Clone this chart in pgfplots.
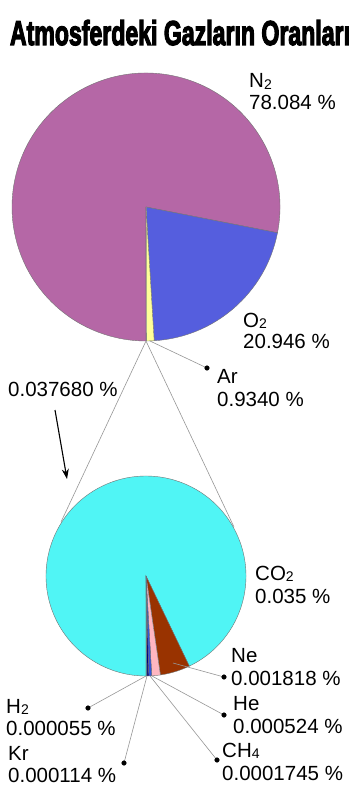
\documentclass[border=0pt]{standalone}
\usepackage{pgfplots}
\pgfplotsset{compat=1.18}
\usepackage{graphicx}
\usepackage{fontspec}
\setmainfont{Liberation Sans}
\newfontfamily\titlefont{Liberation Sans Bold}[FakeBold=4]
\usetikzlibrary{arrows.meta}

\definecolor{cN}{RGB}{181,103,166}
\definecolor{cO}{RGB}{85,94,222}
\definecolor{cAr}{RGB}{255,255,153}
\definecolor{cOther}{RGB}{200,200,200}
\definecolor{cCO}{RGB}{80,245,245}
\definecolor{cNe}{RGB}{153,51,0}
\definecolor{cHe}{RGB}{255,182,193}
\definecolor{cCH}{RGB}{51,85,220}
\definecolor{cKr}{RGB}{0,0,128}
\definecolor{cH}{RGB}{40,150,170}
\definecolor{leader}{RGB}{150,150,150}

% ---- data (percent of atmosphere) ----
\def\vN{78.084}\def\vO{20.946}\def\vAr{0.9340}\def\vOther{0.037680}
\def\vCO{0.035}\def\vNe{0.001818}\def\vHe{0.000524}\def\vCH{0.0001745}\def\vKr{0.000114}\def\vH{0.000055}

% top pie angles
\edef\Ta{\fpeval{\vN+\vO+\vAr+\vOther}}
\edef\aOtherS{\fpeval{round(-90+\vOther/\Ta*360,3)}}
\edef\aArS{\fpeval{round(\aOtherS+\vAr/\Ta*360,3)}}
\edef\aOS{\fpeval{round(\aArS+\vO/\Ta*360,3)}}
% bottom pie angles
\edef\Tb{\fpeval{\vCO+\vNe+\vHe+\vCH+\vKr+\vH}}
\edef\bH{\fpeval{round(-90+\vH/\Tb*360,3)}}
\edef\bKr{\fpeval{round(\bH+\vKr/\Tb*360,3)}}
\edef\bCH{\fpeval{round(\bKr+\vCH/\Tb*360,3)}}
\edef\bHe{\fpeval{round(\bCH+\vHe/\Tb*360,3)}}
\edef\bNe{\fpeval{round(\bHe+\vNe/\Tb*360,3)}}

\newcommand\slice[6]{%
  \fill[#6, draw=black!55, line width=0.4pt] (axis cs:#1,#2) -- ++(#4:#3pt)
     arc[start angle=#4, end angle=#5, radius=#3pt] -- cycle;}
\newcommand\sub[1]{\raisebox{-1.5pt}{\fontsize{14}{14}\selectfont #1}}
\newcommand\lbl[3]{\node[anchor=base west, inner sep=0pt, font=\fontsize{20.5}{24}\selectfont] at (axis cs:#1,#2) {#3};}

\begin{document}
\begin{tikzpicture}
\begin{axis}[scale only axis, width=359pt, height=797pt,
  xmin=0, xmax=359, ymin=0, ymax=797, y dir=reverse,
  hide axis, clip=false]

% title
\node[anchor=base, inner sep=0pt] at (axis cs:180,45)
  {\resizebox{340pt}{25pt}{\titlefont Atmosferdeki Gazların Oranları}};

% top pie
\slice{146}{207}{134}{\aOS}{270}{cN}
\slice{146}{207}{134}{\aArS}{\aOS}{cO}
\slice{146}{207}{134}{\aOtherS}{\aArS}{cAr}
\slice{146}{207}{134}{-90}{\aOtherS}{cOther}

% connectors
\addplot[leader, line width=0.6pt] coordinates {(61,522) (146,341) (234,527)};

% bottom pie
\slice{146}{576}{100}{\bNe}{270}{cCO}
\slice{146}{576}{100}{\bHe}{\bNe}{cNe}
\slice{146}{576}{100}{\bCH}{\bHe}{cHe}
\slice{146}{576}{100}{\bKr}{\bCH}{cCH}
\slice{146}{576}{100}{\bH}{\bKr}{cKr}
\slice{146}{576}{100}{-90}{\bH}{cH}

% leader lines
\addplot[leader, line width=0.6pt] coordinates {(150,341) (207,368)};
\addplot[leader, line width=0.6pt] coordinates {(173,663) (224,677)};
\addplot[leader, line width=0.6pt] coordinates {(152,676) (224,715)};
\addplot[leader, line width=0.6pt] coordinates {(150,676) (217,760)};
\addplot[leader, line width=0.6pt] coordinates {(147,676) (124,763)};
\addplot[leader, line width=0.6pt] coordinates {(146,676) (88,708)};
\addplot[only marks, mark=*, mark size=2.3pt, black] coordinates
  {(207,368) (224,677) (224,715) (217,760) (124,763) (88,708)};

% arrow
\addplot[black, line width=1.1pt, -{Stealth[length=10pt,width=7pt]}] coordinates {(55,410) (67,479)};

% labels
\lbl{249}{88}{N\sub{2}}
\lbl{249}{110}{78.084 \%}
\lbl{243}{327}{O\sub{2}}
\lbl{243}{348}{20.946 \%}
\lbl{217}{383}{Ar}
\lbl{217}{406}{0.9340 \%}
\lbl{8}{396}{0.037680 \%}
\lbl{255}{580}{CO\sub{2}}
\lbl{255}{603}{0.035 \%}
\lbl{231}{662}{Ne}
\lbl{231}{685}{0.001818 \%}
\lbl{233}{710}{He}
\lbl{233}{733}{0.000524 \%}
\lbl{222}{757}{CH\sub{4}}
\lbl{222}{780}{0.0001745 \%}
\lbl{6}{713}{H\sub{2}}
\lbl{6}{735}{0.000055 \%}
\lbl{8}{760}{Kr}
\lbl{8}{782}{0.000114 \%}
\end{axis}
\path (current axis.south west) rectangle (current axis.north east);
\end{tikzpicture}
\end{document}
